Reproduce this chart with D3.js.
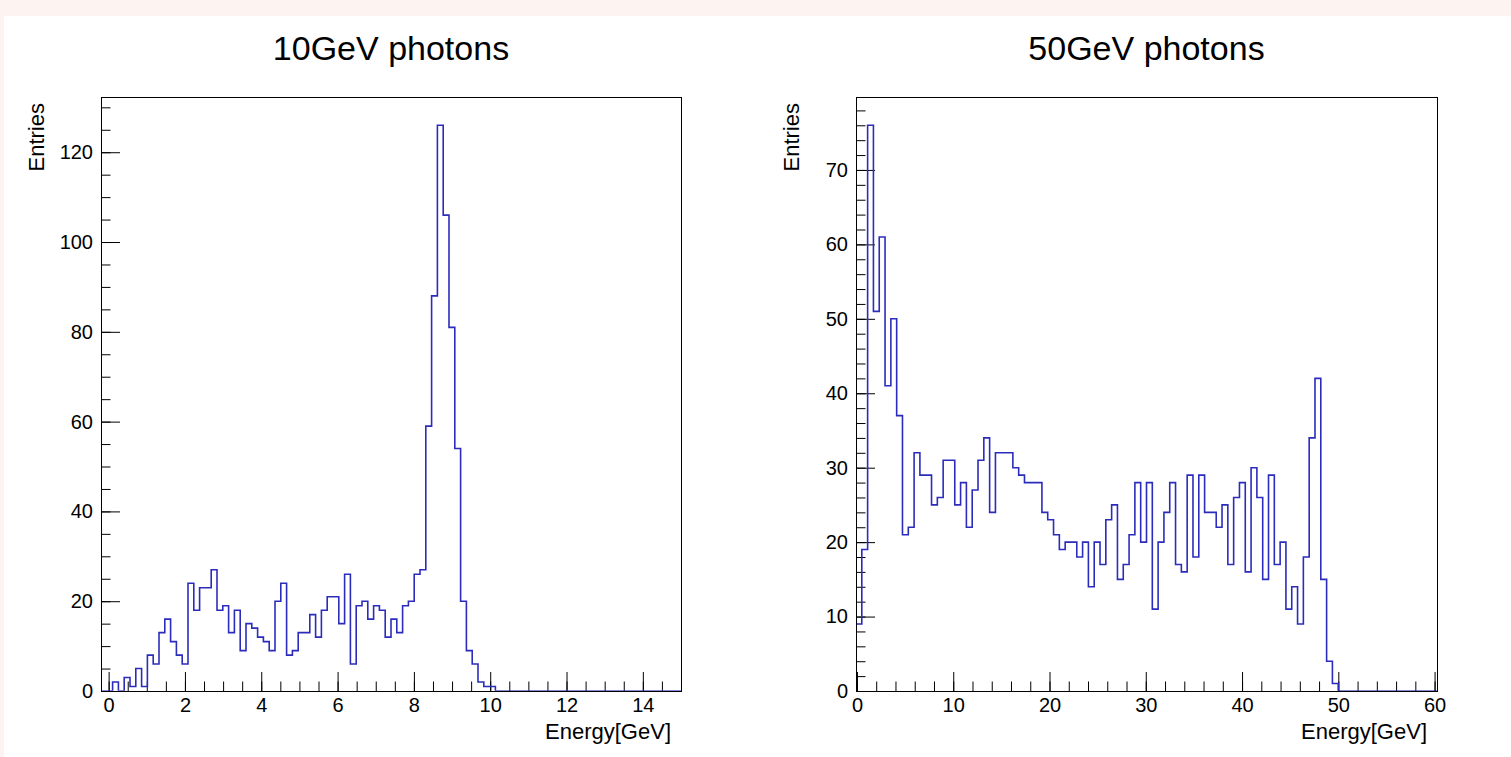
<!DOCTYPE html>
<html>
<head>
<meta charset="utf-8">
<script src="https://cdn.jsdelivr.net/npm/d3@7"></script>
<style>
  body { margin: 0; background: #fdf3f1; }
  svg { display: block; }
  text { font-family: "Liberation Sans", Arial, Helvetica, sans-serif; fill: #000; }
</style>
</head>
<body>
<div id="chart"></div>
<script>
// 100 bins each, counts
var titles = ["10GeV photons", "50GeV photons"];
var xLabel = "Energy[GeV]";
var yLabel = "Entries";

var lowRange = [-0.2, 15.0];
var lowCounts = [
  0, 0, 2, 0, 3, 1, 5, 1, 8, 6,
  13, 16, 11, 8, 6, 24, 18, 23, 23, 27,
  18, 19, 13, 18, 9, 15, 14, 12, 11, 9,
  20, 24, 8, 9, 13, 13, 17, 12, 18, 21,
  21, 15, 26, 6, 19, 20, 16, 19, 18, 12,
  16, 13, 19, 20, 26, 27, 59, 88, 126, 106,
  81, 54, 20, 9, 6, 2, 1, 1, 0, 0,
  0, 0, 0, 0, 0, 0, 0, 0, 0, 0,
  0, 0, 0, 0, 0, 0, 0, 0, 0, 0,
  0, 0, 0, 0, 0, 0, 0, 0, 0, 0
];
var lowXTicks = [0, 2, 4, 6, 8, 10, 12, 14];
var lowYTicks = [0, 20, 40, 60, 80, 100, 120];

var highRange = [-0.1, 60.25];
var highCounts = [
  9, 19, 76, 51, 61, 41, 50, 37, 21, 22,
  32, 29, 29, 25, 26, 31, 31, 25, 28, 22,
  27, 31, 34, 24, 32, 32, 32, 30, 29, 28,
  28, 28, 24, 23, 21, 19, 20, 20, 18, 20,
  14, 20, 17, 23, 25, 15, 17, 21, 28, 20,
  28, 11, 20, 24, 28, 17, 16, 29, 18, 29,
  24, 24, 22, 25, 17, 26, 28, 16, 30, 26,
  15, 29, 17, 20, 11, 14, 9, 18, 34, 42,
  15, 4, 1, 0, 0, 0, 0, 0, 0, 0,
  0, 0, 0, 0, 0, 0, 0, 0, 0, 0
];
var highXTicks = [0, 10, 20, 30, 40, 50, 60];
var highYTicks = [0, 10, 20, 30, 40, 50, 60, 70];

var W = 1511, H = 757;
var svg = d3.select("#chart").append("svg").attr("width", W).attr("height", H);
svg.append("rect").attr("x", 4).attr("y", 16).attr("width", W - 4).attr("height", H - 16).attr("fill", "#fff");
var defs = svg.append("defs");

function drawPanel(id, left, right, title, range, counts, xTicks, yTicks, xMinorStep, yMinorStep) {
    var top = 97, bottom = 691;
    var n = counts.length;
    var binW = (range[1] - range[0]) / n;
    var yMax = d3.max(counts) * 1.05;
    var x = d3.scaleLinear().domain(range).range([left, right]);
    var y = d3.scaleLinear().domain([0, yMax]).range([bottom, top]);
    var g = svg.append("g");

    g.append("text")
        .attr("x", (left + right) / 2).attr("y", 60)
        .attr("text-anchor", "middle")
        .style("font-size", "34px")
        .text(title);

    // minor ticks first, then major with labels
    var xMinor = d3.range(0, range[1] + 1e-9, xMinorStep).filter(function (v) { return x(v) < right - 1; });
    var yMinor = d3.range(0, yMax + 1e-9, yMinorStep);

    g.append("g").attr("transform", "translate(0," + bottom + ")")
        .call(d3.axisBottom(x).tickValues(xMinor).tickSize(-9.5).tickFormat(""))
        .call(function (a) { a.select(".domain").remove(); });
    g.append("g").attr("transform", "translate(" + left + ",0)")
        .call(d3.axisLeft(y).tickValues(yMinor).tickSize(-9.5).tickFormat(""))
        .call(function (a) { a.select(".domain").remove(); });

    var xa = g.append("g").attr("transform", "translate(0," + bottom + ")")
        .call(d3.axisBottom(x).tickValues(xTicks).tickSize(-19).tickPadding(7).tickFormat(d3.format("d")));
    xa.select(".domain").remove();
    var ya = g.append("g").attr("transform", "translate(" + left + ",0)")
        .call(d3.axisLeft(y).tickValues(yTicks).tickSize(-19).tickPadding(8).tickFormat(d3.format("d")));
    ya.select(".domain").remove();

    g.selectAll(".tick line").attr("stroke", "#000").attr("stroke-width", 1);
    g.selectAll(".tick text")
        .style("font-size", "20px")
        .attr("font-family", "Liberation Sans, Arial, sans-serif");

    // clip so empty bins sit under the axis line
    defs.append("clipPath").attr("id", id)
        .append("rect")
        .attr("x", left).attr("y", top)
        .attr("width", right - left).attr("height", bottom - top - 0.3);

    // histogram outline
    var pts = [[x(range[0]), y(0)]];
    counts.forEach(function (c, i) {
        var x0 = range[0] + i * binW, x1 = x0 + binW;
        pts.push([x(x0), y(c)]);
        pts.push([x(x1), y(c)]);
    });
    pts.push([x(range[1]), y(0)]);
    g.append("path")
        .attr("clip-path", "url(#" + id + ")")
        .attr("d", d3.line()(pts))
        .attr("fill", "none")
        .attr("stroke", "#2c2cbc")
        .attr("stroke-width", 1.6);

    // frame
    g.append("rect")
        .attr("x", left + 0.5).attr("y", top + 0.5)
        .attr("width", right - left).attr("height", bottom - top)
        .attr("fill", "none").attr("stroke", "#000").attr("stroke-width", 1);

    g.append("text")
        .attr("x", right - 10).attr("y", 739)
        .attr("text-anchor", "end")
        .style("font-size", "22px")
        .text(xLabel);

    g.append("text")
        .attr("transform", "translate(" + (left - 57) + "," + (top + 6) + ") rotate(-90)")
        .attr("text-anchor", "end")
        .style("font-size", "22px")
        .text(yLabel);
}

drawPanel("clipLow", 101, 681, titles[0], lowRange, lowCounts, lowXTicks, lowYTicks, 0.5, 5);
drawPanel("clipHigh", 856, 1437, titles[1], highRange, highCounts, highXTicks, highYTicks, 2, 2);
</script>
</body>
</html>
